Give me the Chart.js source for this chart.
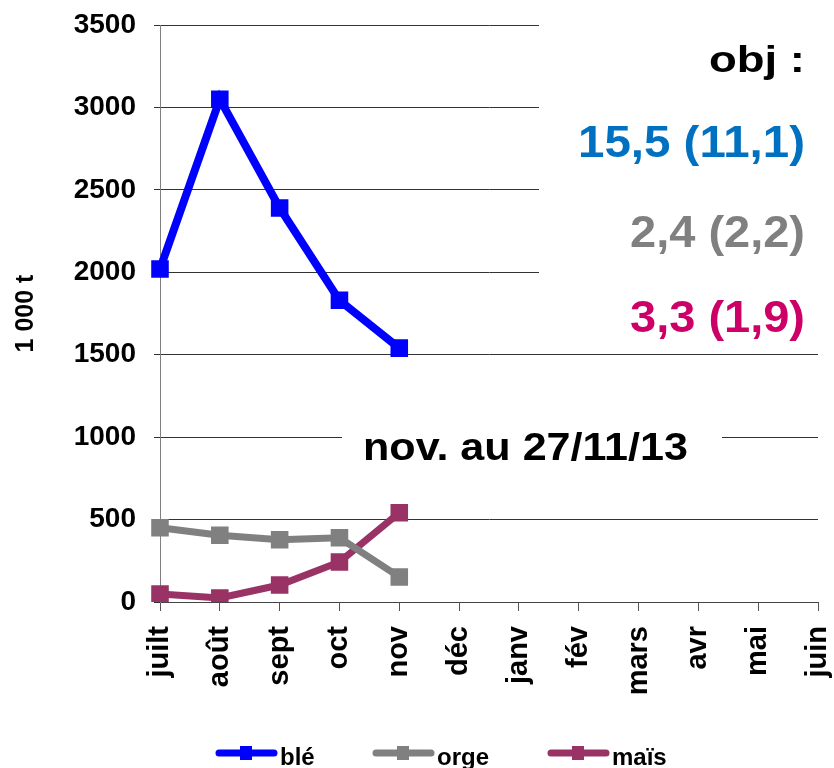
<!DOCTYPE html>
<html>
<head>
<meta charset="utf-8">
<script src="https://cdn.jsdelivr.net/npm/chart.js@4.4.1/dist/chart.umd.min.js"></script>
<style>
  html, body { margin: 0; padding: 0; background: #fff; }
  #wrap { width: 834px; height: 768px; }
</style>
</head>
<body>
<div id="wrap"><canvas id="c" width="834" height="768"></canvas></div>
<script>
const months = ['juilt', 'août', 'sept', 'oct', 'nov', 'déc', 'janv', 'fév', 'mars', 'avr', 'mai', 'juin'];
const ble   = [2020, 3050, 2390, 1830, 1540, null, null, null, null, null, null, null];
const orge  = [450, 405, 378, 390, 152, null, null, null, null, null, null, null];
const mais  = [49, 24, 103, 243, 541, null, null, null, null, null, null, null];
const seriesNames = ['blé', 'orge', 'maïs'];
const seriesColors = ['#0000FF', '#808080', '#993366'];
const yTicks = [0, 500, 1000, 1500, 2000, 2500, 3000, 3500];
const yTitle = '1 000 t';
const objLabel = 'obj :';
const objValues = ['15,5 (11,1)', '2,4 (2,2)', '3,3 (1,9)'];
const objColors = ['#0070C0', '#808080', '#CC0066'];
const dateNote = 'nov. au 27/11/13';

const FONT = '"Liberation Sans", Arial, sans-serif';

function stretchText(ctx, text, x, y, size, color, targetW, align) {
  ctx.save();
  ctx.font = 'bold ' + size + 'px ' + FONT;
  ctx.fillStyle = color;
  ctx.textBaseline = 'alphabetic';
  const w = ctx.measureText(text).width;
  const s = targetW ? targetW / w : 1;
  ctx.translate(x, y);
  ctx.scale(s, 1);
  ctx.textAlign = align || 'left';
  ctx.fillText(text, 0, 0);
  ctx.restore();
}

const annotations = {
  id: 'annotations',
  beforeDatasetsDraw(chart) {
    const ctx = chart.ctx;
    const y = chart.scales.y;
    ctx.save();
    ctx.fillStyle = '#fff';
    ctx.fillRect(539, 0, chart.width - 539, y.getPixelForValue(1500) - 4);
    const g = y.getPixelForValue(1000);
    ctx.fillRect(342, g - 20, 722 - 342, 44);
    ctx.restore();
  },
  afterDraw(chart) {
    const ctx = chart.ctx;
    stretchText(ctx, objLabel, 805, 72, 37, '#000', 96, 'right');
    const baselines = [157, 247, 332];
    const widths = [227, 175, 175];
    objValues.forEach((t, i) => stretchText(ctx, t, 805, baselines[i], 44, objColors[i], widths[i], 'right'));
    stretchText(ctx, dateNote, 363, 460, 39, '#000', 325, 'left');

    const starts = [216, 373, 548];
    chart.data.datasets.forEach((ds, i) => {
      const x0 = starts[i];
      const ly = 753;
      ctx.save();
      ctx.strokeStyle = ds.borderColor;
      ctx.lineWidth = 7;
      ctx.lineCap = 'round';
      ctx.beginPath();
      ctx.moveTo(x0 + 3, ly);
      ctx.lineTo(x0 + 58, ly);
      ctx.stroke();
      ctx.fillStyle = ds.borderColor;
      ctx.fillRect(x0 + 24, ly - 7, 12, 14);
      ctx.restore();
      stretchText(ctx, ds.label, x0 + 64, 765, 24, '#000', null, 'left');
    });
  }
};

const ds = (label, data, color, lw) => ({
  label, data,
  borderColor: color, backgroundColor: color,
  borderWidth: lw,
  pointStyle: 'rect', pointRadius: 11, pointBorderWidth: 2,
  pointBackgroundColor: color, pointBorderColor: color,
  pointHoverRadius: 11,
  spanGaps: false, tension: 0, fill: false
});

new Chart(document.getElementById('c'), {
  type: 'line',
  data: {
    labels: months,
    datasets: [
      ds(seriesNames[0], ble, seriesColors[0], 8),
      ds(seriesNames[1], orge, seriesColors[1], 7),
      ds(seriesNames[2], mais, seriesColors[2], 7)
    ]
  },
  options: {
    responsive: false,
    animation: false,
    layout: { padding: { top: 25, right: 16, bottom: 40, left: 0 } },
    plugins: { legend: { display: false }, tooltip: { enabled: false } },
    scales: {
      x: {
        type: 'category',
        offset: false,
        grid: { drawOnChartArea: false, drawTicks: true, tickLength: 9, color: '#555' },
        border: { display: true, color: '#444', width: 1 },
        ticks: {
          autoSkip: false, maxRotation: 90, minRotation: 90, padding: 15,
          color: '#000', font: { family: FONT, size: 29, weight: 'bold' }
        },
        afterFit(scale) { scale.height = 126; scale.paddingLeft = 0; scale.paddingRight = 0; }
      },
      y: {
        min: 0, max: 3500,
        afterBuildTicks(scale) { scale.ticks = yTicks.map(v => ({ value: v })); },
        grid: { color: '#333', lineWidth: 1, tickLength: 6, drawTicks: true },
        border: { display: true, color: '#808080', width: 1 },
        ticks: {
          padding: 18, color: '#000',
          callback: (v) => String(v),
          font: { family: FONT, size: 28, weight: 'bold' }
        },
        title: {
          display: true, text: yTitle, color: '#000',
          font: { family: FONT, size: 25, weight: 'bold' },
          padding: { top: 11, bottom: 0 }
        },
        afterFit(scale) { scale.width = 160; scale.paddingTop = 0; scale.paddingBottom = 0; }
      }
    }
  },
  plugins: [annotations]
});
</script>
</body>
</html>
